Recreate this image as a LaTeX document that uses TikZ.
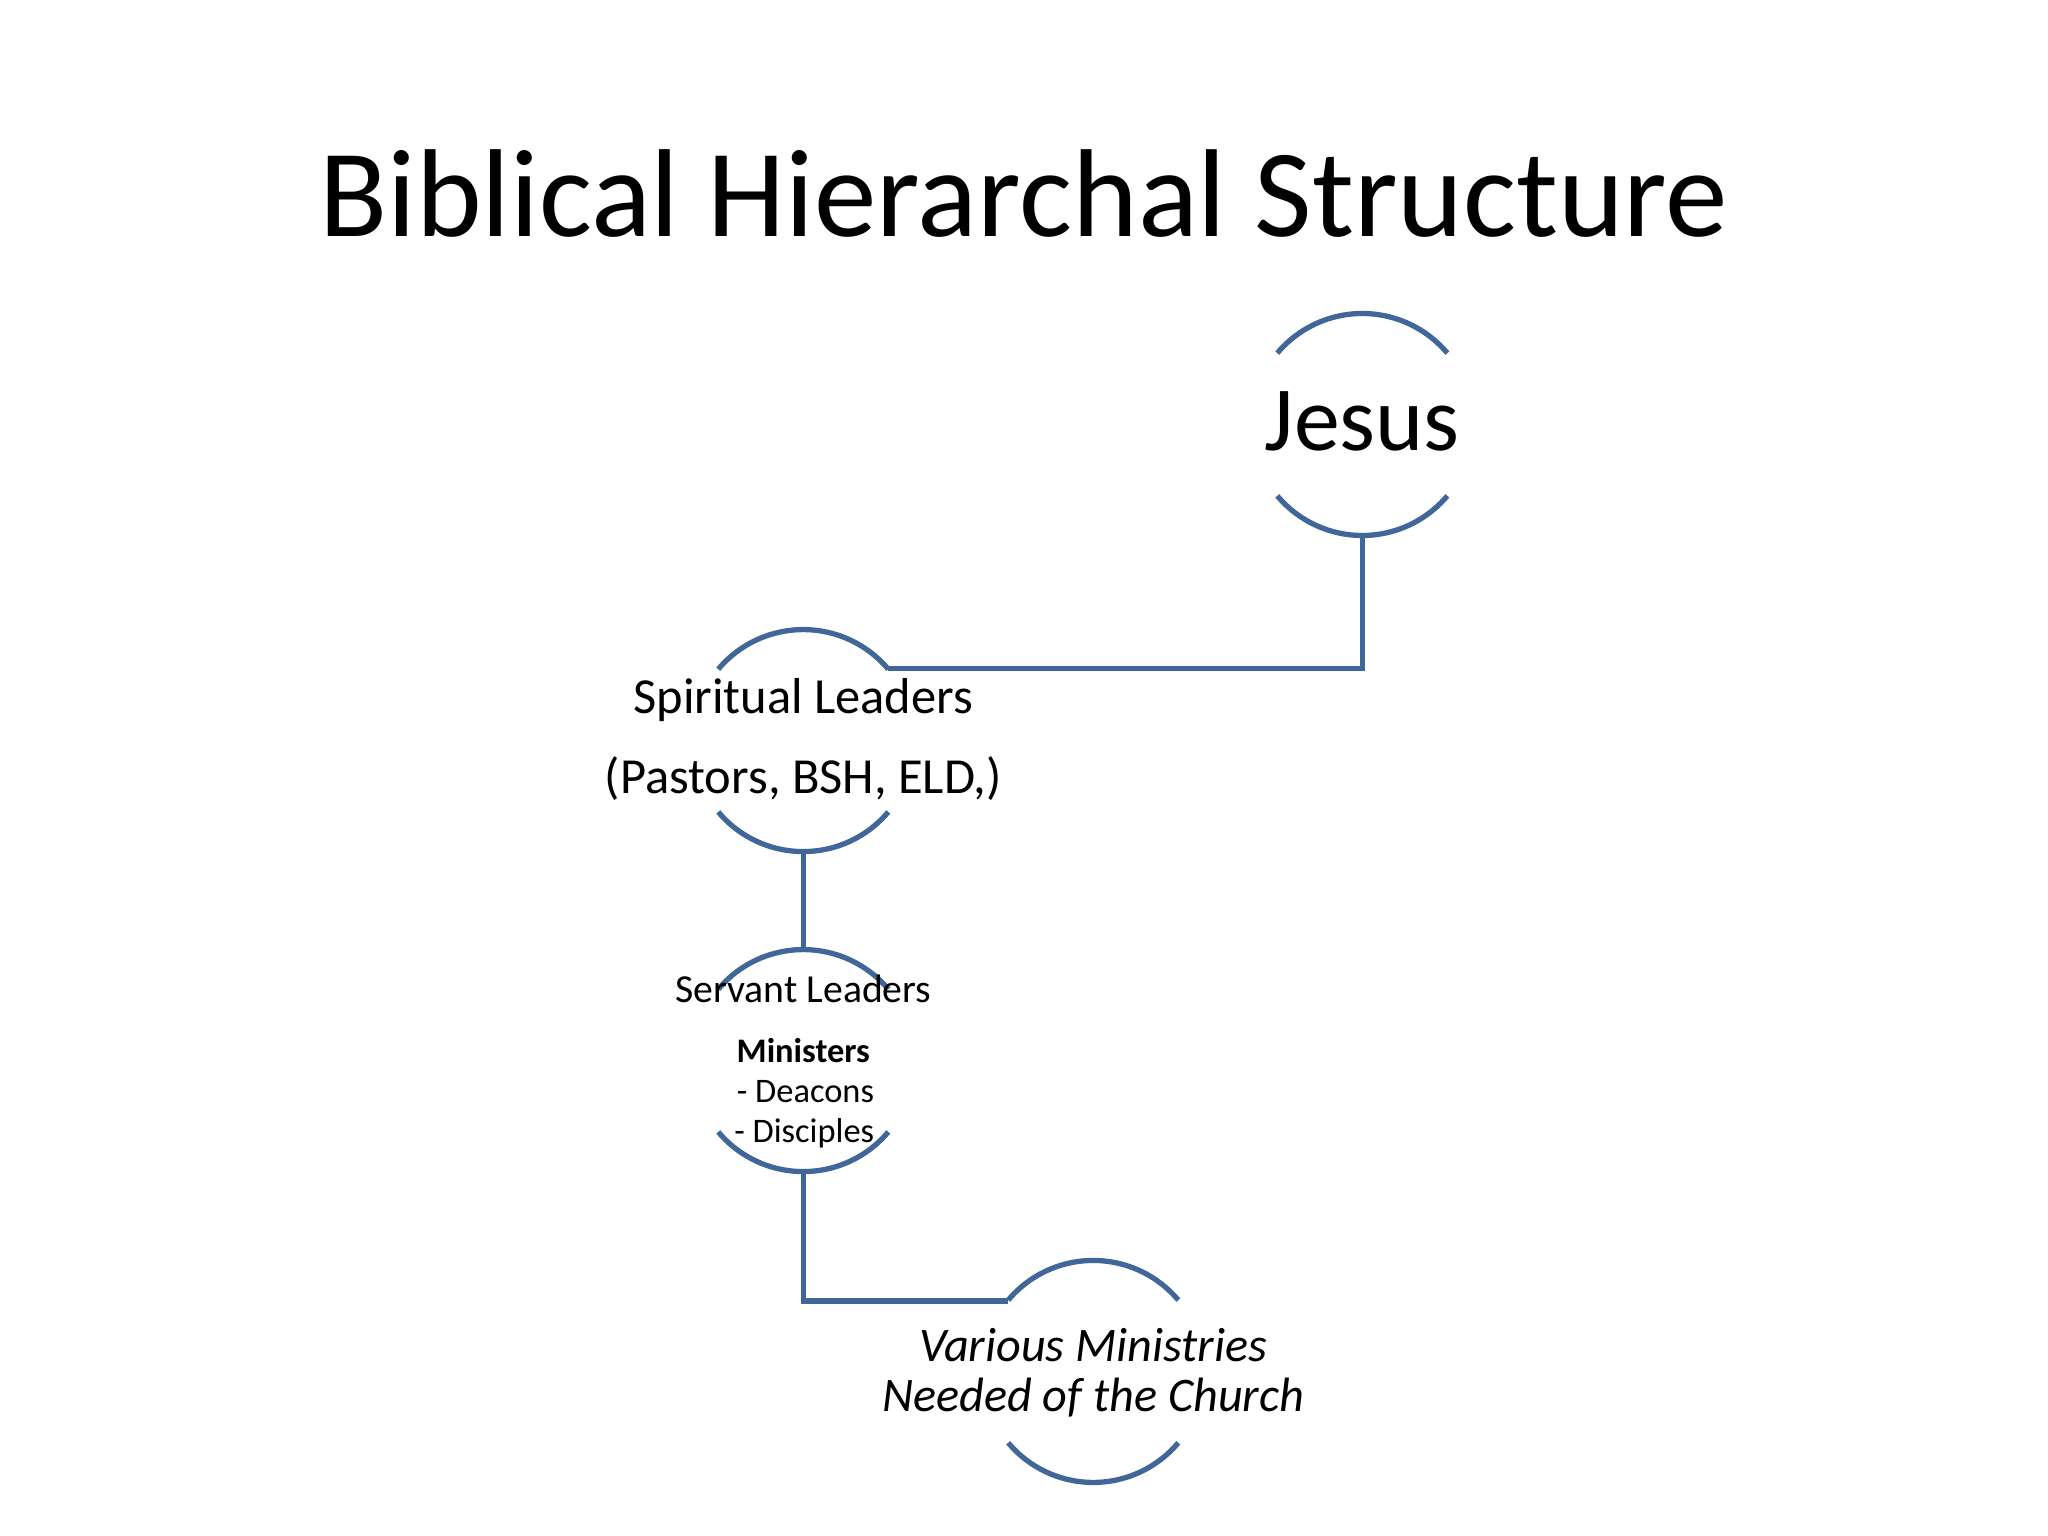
\documentclass[tikz,border=0pt]{standalone}
\usepackage{fontspec}
\setmainfont{Carlito}
\definecolor{ln}{HTML}{41669A}
\begin{document}
\begin{tikzpicture}[x=0.02cm,y=-0.02cm,
  arcl/.style={draw=ln,line width=2.3pt},
  conn/.style={draw=ln,line width=2.3pt},
  sl/.style={font=\fontsize{22}{26}\selectfont},
  vm/.style={font=\fontsize{21}{25}\selectfont\itshape},
  ml/.style={font=\fontsize{15}{18}\selectfont,anchor=west}]
\useasboundingbox (0,0) rectangle (1568,1176);
\node (title) at (784,148) {\fontsize{54.5}{66}\selectfont Biblical Hierarchal Structure};
\foreach \n/\cx/\cy in {J/1043/325,S/615/567,V/615/812,M/837/1050}{
  \coordinate (\n) at (\cx,\cy);
  \draw[arcl] ([shift={(40:1.7cm)}]\n) arc[start angle=40,end angle=140,radius=1.7cm];
  \draw[arcl] ([shift={(220:1.7cm)}]\n) arc[start angle=220,end angle=320,radius=1.7cm];
}
\coordinate (Jb) at (1043,410);
\coordinate (Sa) at (680,512);
\coordinate (Sb) at (615,652);
\coordinate (Vt) at (615,727);
\coordinate (Vb) at (615,897);
\coordinate (Ma) at (772,996);
\draw[conn] (Jb) |- (Sa);
\draw[conn] (Sb) -- (Vt);
\draw[conn] (Vb) |- (Ma);
\node (jt) at (1043,323) {\fontsize{40}{48}\selectfont Jesus};
\node[sl] (s1) at (615,536) {Spiritual Leaders};
\node[sl] (s2) at (615,596) {(Pastors, BSH, ELD,)};
\node (vt) at (615,757) {\fontsize{17.3}{20}\selectfont Servant Leaders};
\node (m1) at (615,804) {\fontsize{15}{18}\selectfont\bfseries Ministers};
\node[ml] (m2) at (558,836) {- Deacons};
\node[ml] (m3) at (556,868) {- Disciples};
\node[vm] (v1) at (837,1030) {Various Ministries};
\node[vm] (v2) at (837,1070) {Needed of the Church};
\end{tikzpicture}
\end{document}
